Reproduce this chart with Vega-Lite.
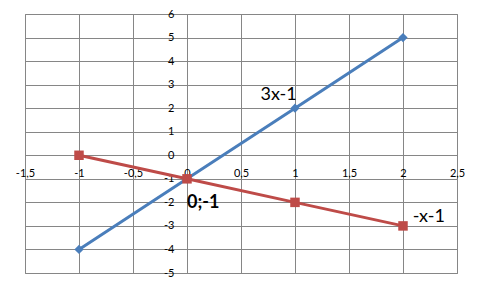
{
  "$schema": "https://vega.github.io/schema/vega-lite/v6.json",
  "autosize": {"type": "none"},
  "padding": {"left": 25, "top": 14, "right": 24, "bottom": 16},
  "width": 432,
  "height": 259,
  "background": "white",
  "config": {
    "view": {"stroke": "#868686", "strokeWidth": 1},
    "font": "Lato",
    "axis": {
      "gridColor": "#868686",
      "gridWidth": 1,
      "gridOpacity": 1,
      "domain": false,
      "ticks": false,
      "labelFont": "Lato",
      "labelFontSize": 11,
      "labelColor": "#000000",
      "labelOverlap": false,
      "labelFlush": false,
      "labelBound": false,
      "title": null
    }
  },
  "datasets": {
    "series": [
      {"x": -1, "y": -4, "s": "3x-1"},
      {"x": 0, "y": -1, "s": "3x-1"},
      {"x": 1, "y": 2, "s": "3x-1"},
      {"x": 2, "y": 5, "s": "3x-1"},
      {"x": -1, "y": 0, "s": "-x-1"},
      {"x": 0, "y": -1, "s": "-x-1"},
      {"x": 1, "y": -2, "s": "-x-1"},
      {"x": 2, "y": -3, "s": "-x-1"}
    ],
    "labels": [
      {"x": 0.68, "y": 2.36, "text": "3x-1"},
      {"x": 2.09, "y": -2.82, "text": "-x-1"}
    ],
    "point": [
      {"x": 0.0, "y": -2.22, "text": "0;-1"}
    ]
  },
  "encoding": {
    "x": {
      "field": "x",
      "type": "quantitative",
      "scale": {"domain": [-1.5, 2.5], "nice": false, "zero": false},
      "axis": {
        "values": [-1.5, -1, -0.5, 0, 0.5, 1, 1.5, 2, 2.5],
        "offset": -117.7,
        "labelPadding": 12,
        "labelExpr": "replace(toString(datum.value), '.', ',')"
      }
    },
    "y": {
      "field": "y",
      "type": "quantitative",
      "scale": {"domain": [-5, 6], "nice": false, "zero": false},
      "axis": {
        "values": [-5, -4, -3, -2, -1, 0, 1, 2, 3, 4, 5, 6],
        "offset": -162,
        "labelPadding": 13,
        "labelExpr": "toString(datum.value)"
      }
    }
  },
  "layer": [
    {
      "data": {"name": "series"},
      "mark": {"type": "line", "strokeWidth": 3},
      "encoding": {
        "color": {
          "field": "s",
          "type": "nominal",
          "scale": {"domain": ["3x-1", "-x-1"], "range": ["#4a7ebb", "#be4b48"]},
          "legend": null
        },
        "order": {"field": "x", "type": "quantitative"}
      }
    },
    {
      "data": {"name": "series"},
      "mark": {"type": "point", "filled": true, "opacity": 1},
      "encoding": {
        "color": {
          "field": "s",
          "type": "nominal",
          "scale": {"domain": ["3x-1", "-x-1"], "range": ["#4a7ebb", "#be4b48"]},
          "legend": null
        },
        "shape": {
          "field": "s",
          "type": "nominal",
          "scale": {"domain": ["3x-1", "-x-1"], "range": ["diamond", "square"]},
          "legend": null
        },
        "size": {
          "field": "s",
          "type": "nominal",
          "scale": {"domain": ["3x-1", "-x-1"], "range": [85, 90]},
          "legend": null
        }
      }
    },
    {
      "data": {"name": "labels"},
      "mark": {"type": "text", "align": "left", "baseline": "alphabetic", "fontSize": 18, "font": "Lato", "color": "#000000"},
      "encoding": {"text": {"field": "text"}}
    },
    {
      "data": {"name": "point"},
      "mark": {"type": "text", "align": "left", "baseline": "alphabetic", "fontSize": 18, "fontWeight": "bold", "font": "Lato", "color": "#000000"},
      "encoding": {"text": {"field": "text"}}
    }
  ]
}
